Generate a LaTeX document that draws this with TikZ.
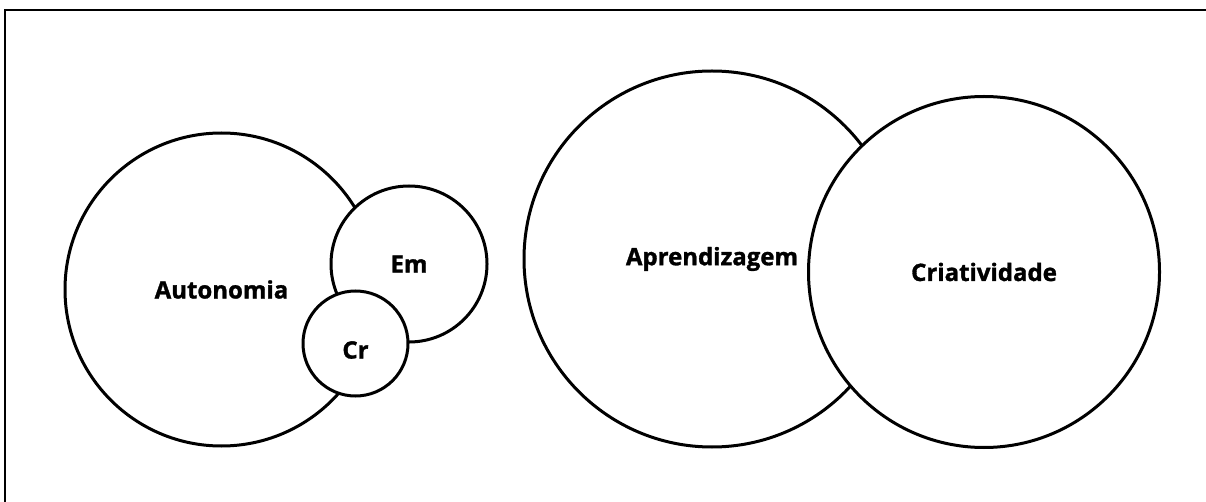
\documentclass[tikz,border=0pt]{standalone}
\usepackage{fontspec}
\setmainfont{Open Sans}[BoldFeatures={FakeBold=1.3}]
\begin{document}
\begin{tikzpicture}[x=1pt,y=-1pt,
  bub/.style={circle,draw,line width=3pt,fill=white,inner sep=0pt},
  lbl/.style={font=\bfseries\fontsize{24}{29}\selectfont}]
\useasboundingbox (0,0) rectangle (1206,502);
\draw[line width=2pt] (5,502) -- (5,10) -- (1206,10);
\node[bub,minimum size=313pt,lbl] (aut) at (221.5,289.5) {Autonomia};
\node[bub,minimum size=156pt,lbl] (em) at (409,264) {Em};
\node[bub,minimum size=105pt] (cr) at (355.5,343.5) {};
\node[lbl] (crt) at ([yshift=-6.5pt]cr.center) {Cr};
\node[bub,minimum size=376pt,lbl] (apr) at (712,259) {Aprendizagem};
\node[bub,minimum size=351pt,lbl] (cri) at (984,272) {Criatividade};
\end{tikzpicture}
\end{document}
